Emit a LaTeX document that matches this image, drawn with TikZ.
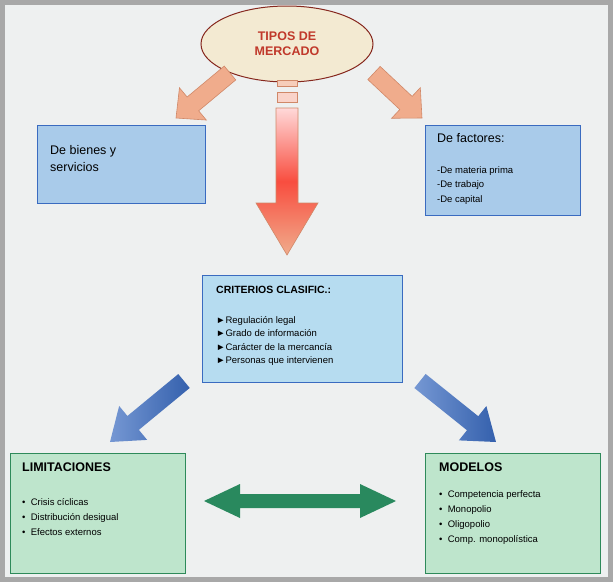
\documentclass[tikz,border=0pt]{standalone}
\usepackage{fontspec}
\setmainfont{Liberation Sans}
\usetikzlibrary{calc,shapes.geometric}
\definecolor{bg}{HTML}{EEF0F0}
\definecolor{frame}{HTML}{A8A8A8}
\definecolor{salmon}{HTML}{F0AC8C}
\definecolor{salmonb}{HTML}{D08868}
\definecolor{bfill}{HTML}{A9CBEA}
\definecolor{bedge}{HTML}{3A6BC0}
\definecolor{cfill}{HTML}{B6DCF0}
\definecolor{gfill}{HTML}{BEE5CC}
\definecolor{gedge}{HTML}{2E8A5A}
\definecolor{tred}{HTML}{C0392B}
\definecolor{cream}{HTML}{F3EAD2}
\newcommand{\fatarr}[6]{% start,end,halfshaft,halfhead,headlen,style
  \path[#6] ($(#1)!#3pt!90:(#2)$) -- ($($(#2)!#5pt!(#1)$)!#3pt!90:(#2)$)
   -- ($($(#2)!#5pt!(#1)$)!#4pt!90:(#2)$) -- (#2)
   -- ($($(#2)!#5pt!(#1)$)!#4pt!-90:(#2)$) -- ($($(#2)!#5pt!(#1)$)!#3pt!-90:(#2)$)
   -- ($(#1)!#3pt!-90:(#2)$) -- cycle;}
\tikzset{
 box/.style={draw=bedge,line width=1pt,fill=bfill,anchor=north west,inner sep=0pt},
 gbox/.style={draw=gedge,line width=1pt,fill=gfill,anchor=north west,inner sep=0pt},
 txt/.style={anchor=north west,align=left,inner sep=0pt,font=\fontsize{10}{12.5}\selectfont},
 sarr/.style={fill=salmon,draw=salmonb,line width=0.6pt},
 barr/.style={left color=bedge!70!white,right color=bedge!90!black,draw=none},
}
\begin{document}
\begin{tikzpicture}[x=1pt,y=-1pt]
\fill[frame] (0,0) rectangle (613,582);
\fill[bg] (5,5) rectangle (608,577);
% top ellipse
\node[ellipse,draw=tred!70!black,line width=1pt,fill=cream,minimum width=172pt,minimum height=76pt,align=center,text=tred,font=\bfseries\fontsize{12.5}{15}\selectfont] (tipos) at (287,44) {TIPOS DE\\MERCADO};
% small arrows
\coordinate (l1) at (230,73); \coordinate (l2) at (176,118);
\fatarr{l1}{l2}{9}{21}{22}{sarr}
\coordinate (r1) at (374,73); \coordinate (r2) at (422,118);
\fatarr{r1}{r2}{9}{21}{22}{sarr}
% center arrow
\fill[salmon!60!white,draw=salmonb,line width=0.6pt] (277,80) rectangle (297,86);
\fill[pink!50!salmon!60!white,draw=salmonb,line width=0.6pt] (277,92) rectangle (297,102);
\coordinate (c1) at (287,108); \coordinate (c2) at (287,255);
\fatarr{c1}{c2}{11}{31}{52}{top color=pink!60!white,bottom color=salmon,middle color=red!55!salmon,draw=salmonb,line width=0.6pt}
% top boxes
\node[box,minimum width=168pt,minimum height=78pt] (bienes) at (37,125) {};
\node[txt,font=\fontsize{12.5}{17}\selectfont] at (50,145) {De bienes y\\servicios};
\node[box,minimum width=155pt,minimum height=90pt] (factores) at (425,125) {};
\node[txt,font=\fontsize{12.5}{14}\selectfont] at (437,133) {De factores:};
\node[txt,font=\fontsize{9.5}{14.5}\selectfont] at (437,166) {-De materia prima\\-De trabajo\\-De capital};
% center box
\node[box,fill=cfill,minimum width=200pt,minimum height=107pt] (crit) at (202,275) {};
\node[txt,font=\bfseries\fontsize{10.5}{12}\selectfont] at (216,286) {CRITERIOS CLASIFIC.:};
\node[txt,font=\fontsize{9.5}{13.5}\selectfont] at (216,316) {►Regulación legal\\►Grado de información\\►Carácter de la mercancía\\►Personas que intervienen};
% blue arrows
\coordinate (b1) at (184,381); \coordinate (b2) at (110,442);
\fatarr{b1}{b2}{9}{22}{30}{barr}
\coordinate (b3) at (420,381); \coordinate (b4) at (496,442);
\fatarr{b3}{b4}{9}{22}{30}{barr}
% bottom boxes
\node[gbox,minimum width=175pt,minimum height=120pt] (lim) at (10,453) {};
\node[txt,font=\bfseries\fontsize{12.5}{14}\selectfont] at (22,463) {LIMITACIONES};
\node[txt,font=\fontsize{9.5}{15}\selectfont] at (22,498) {•\ \ Crisis cíclicas\\•\ \ Distribución desigual\\•\ \ Efectos externos};
\node[gbox,minimum width=175pt,minimum height=120pt] (mod) at (425,453) {};
\node[txt,font=\bfseries\fontsize{12.5}{14}\selectfont] at (439,463) {MODELOS};
\node[txt,font=\fontsize{9.5}{15}\selectfont] at (439,490) {•\ \ Competencia perfecta\\•\ \ Monopolio\\•\ \ Oligopolio\\•\ \ Comp. monopolística};
% double arrow
\fill[gedge!90!teal] (204,501) -- (240,484) -- (240,494) -- (360,494) -- (360,484) -- (396,501) -- (360,518) -- (360,508) -- (240,508) -- (240,518) -- cycle;
\end{tikzpicture}
\end{document}
